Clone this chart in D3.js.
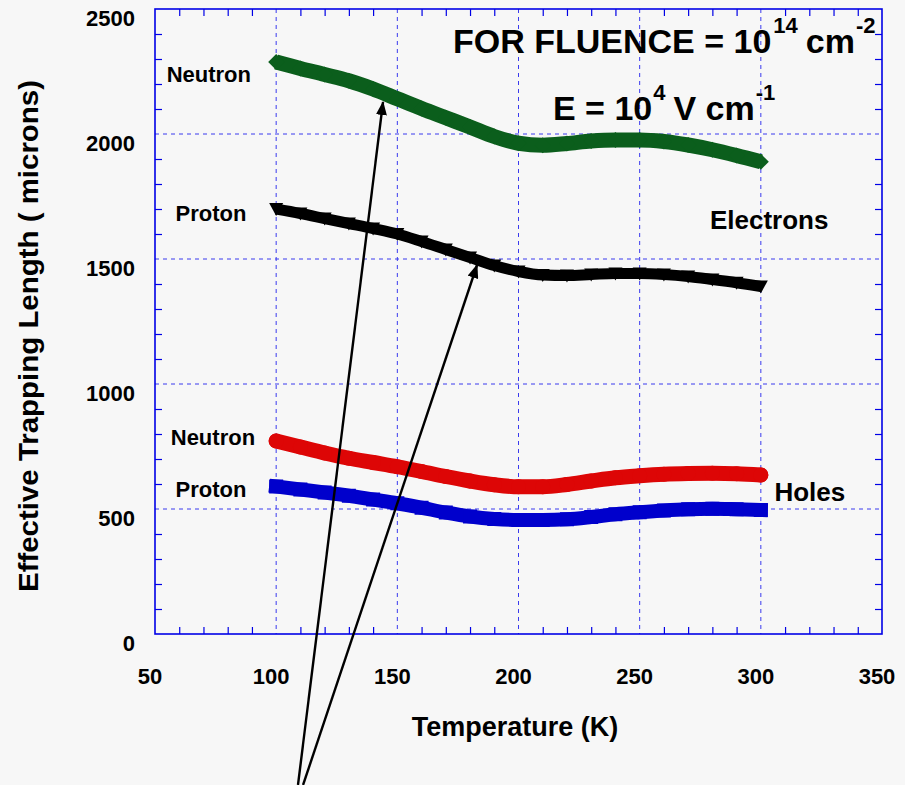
<!DOCTYPE html>
<html>
<head>
<meta charset="utf-8">
<script src="https://cdn.jsdelivr.net/npm/d3@7"></script>
<style>
  html, body { margin: 0; padding: 0; background: #f7f7f7; }
  svg { display: block; font-family: "Liberation Sans", Arial, Helvetica, sans-serif; }
</style>
</head>
<body>
<svg id="chart" width="905" height="785"></svg>
<script>
// Temperatures (K) at which the trapping lengths are given
const temperatures = [100, 110, 120, 130, 140, 150, 160, 170, 180, 190, 200,
                      210, 220, 230, 240, 250, 260, 270, 280, 290, 300];

// Effective trapping length (microns), electrons
const electronsNeutron = [2288, 2262, 2238, 2213, 2180, 2141, 2102, 2065, 2028, 1990, 1963,
                          1955, 1962, 1972, 1976, 1976, 1970, 1956, 1937, 1914, 1889];
const electronsProton  = [1700, 1682, 1662, 1642, 1622, 1600, 1570, 1538, 1506, 1474, 1450,
                          1436, 1434, 1438, 1442, 1442, 1438, 1430, 1418, 1405, 1390];

// Effective trapping length (microns), holes
const holesNeutron = [772, 748, 724, 703, 686, 669, 650, 630, 612, 597, 589,
                      589, 598, 612, 625, 633, 639, 642, 643, 641, 636];
const holesProton  = [590, 578, 566, 553, 538, 523, 505, 486, 470, 460, 456,
                      456, 459, 468, 479, 487, 494, 499, 501, 499, 496];

// Axis tick labels
const xTickLabels = [50, 100, 150, 200, 250, 300, 350];
const yTickLabels = [0, 500, 1000, 1500, 2000, 2500];

const svg = d3.select("#chart");
const W = 905, H = 785;
const plotLeft = 155, plotRight = 882, plotTop = 9, plotBottom = 634;

svg.append("rect").attr("width", W).attr("height", H).attr("fill", "#f7f7f7");

const x = d3.scaleLinear().domain([50, 350]).range([plotLeft, plotRight]);
const y = d3.scaleLinear().domain([0, 2500]).range([plotBottom, plotTop]);

const frameColor = "#0000e6";
const gridColor = "#3a3aee";

// Grid lines (dashed) at the major values inside the frame
const grid = svg.append("g");
grid.selectAll("line.gx")
  .data(xTickLabels.filter(v => v > 50 && v < 350))
  .join("line")
  .attr("x1", d => x(d)).attr("x2", d => x(d))
  .attr("y1", plotTop).attr("y2", plotBottom)
  .attr("stroke", gridColor).attr("stroke-width", 1)
  .attr("stroke-dasharray", "4,4");
grid.selectAll("line.gy")
  .data(yTickLabels.filter(v => v > 0 && v < 2500))
  .join("line")
  .attr("x1", plotLeft).attr("x2", plotRight)
  .attr("y1", d => y(d)).attr("y2", d => y(d))
  .attr("stroke", gridColor).attr("stroke-width", 1)
  .attr("stroke-dasharray", "4,4");

// Minor ticks, pointing inward on all four sides
const xMinor = d3.range(60, 350, 10).filter(v => v % 50 !== 0);
const yMinor = d3.range(100, 2500, 100).filter(v => v % 500 !== 0);
const tickLen = 7;

function styleTicks(g) {
  g.select(".domain").remove();
  g.selectAll(".tick line").attr("stroke", frameColor).attr("stroke-width", 1.2);
}
svg.append("g").attr("transform", `translate(0,${plotBottom})`)
  .call(d3.axisBottom(x).tickValues(xMinor).tickSize(-tickLen).tickFormat(""))
  .call(styleTicks);
svg.append("g").attr("transform", `translate(0,${plotTop})`)
  .call(d3.axisTop(x).tickValues(xMinor).tickSize(-tickLen).tickFormat(""))
  .call(styleTicks);
svg.append("g").attr("transform", `translate(${plotLeft},0)`)
  .call(d3.axisLeft(y).tickValues(yMinor).tickSize(-tickLen).tickFormat(""))
  .call(styleTicks);
svg.append("g").attr("transform", `translate(${plotRight},0)`)
  .call(d3.axisRight(y).tickValues(yMinor).tickSize(-tickLen).tickFormat(""))
  .call(styleTicks);

// Plot frame
svg.append("rect")
  .attr("x", plotLeft).attr("y", plotTop)
  .attr("width", plotRight - plotLeft).attr("height", plotBottom - plotTop)
  .attr("fill", "none").attr("stroke", frameColor).attr("stroke-width", 1.6);

// Tick labels
const gxLab = svg.append("g").attr("transform", `translate(0,${plotBottom})`)
  .call(d3.axisBottom(x).tickValues(xTickLabels).tickSize(0).tickFormat(d3.format("d")));
gxLab.select(".domain").remove();
gxLab.attr("font-family", null).attr("font-size", null);
gxLab.selectAll("text")
  .attr("y", 50).attr("dy", 0).attr("dx", -5.5)
  .attr("font-size", 22).attr("font-weight", "bold").attr("fill", "#000");

const gyLab = svg.append("g").attr("transform", `translate(${plotLeft},0)`)
  .call(d3.axisLeft(y).tickValues(yTickLabels).tickSize(0).tickPadding(20).tickFormat(d3.format("d")));
gyLab.select(".domain").remove();
gyLab.attr("font-family", null).attr("font-size", null);
gyLab.selectAll("text")
  .attr("y", 9)
  .attr("font-size", 22).attr("font-weight", "bold").attr("fill", "#000");

// Axis titles
svg.append("text")
  .attr("x", 515).attr("y", 736)
  .attr("text-anchor", "middle")
  .attr("font-size", 27).attr("font-weight", "bold")
  .text("Temperature (K)");
svg.append("text")
  .attr("transform", "translate(38,336) rotate(-90)")
  .attr("text-anchor", "middle")
  .attr("font-size", 28).attr("font-weight", "bold")
  .attr("textLength", 512).attr("lengthAdjust", "spacingAndGlyphs")
  .text("Effective Trapping Length ( microns)");

// Series
const series = [
  { name: "electronsNeutron", values: electronsNeutron, color: "#0b5e1c", marker: "diamond", width: 15, cap: "butt" },
  { name: "electronsProton",  values: electronsProton,  color: "#000000", marker: "triangleDown", width: 11, cap: "butt" },
  { name: "holesNeutron",     values: holesNeutron,     color: "#dd0606", marker: "circle", width: 15, cap: "round" },
  { name: "holesProton",      values: holesProton,      color: "#0000cc", marker: "square", width: 14, cap: "square" }
];

const line = d3.line()
  .x(d => x(d[0]))
  .y(d => y(d[1]))
  .curve(d3.curveMonotoneX);

// Marker outlines (pixel offsets around each plotted point)
const markerPaths = {
  diamond: "M-8,0 L0,-8 L8,0 L0,8 Z",
  triangleDown: "M-7,-6 L7,-6 L0,7 Z",
  circle: "M-7.5,0 A7.5,7.5 0 1,0 7.5,0 A7.5,7.5 0 1,0 -7.5,0 Z",
  square: "M-7,-7 L7,-7 L7,7 L-7,7 Z"
};

series.forEach(s => {
  const pts = temperatures.map((t, i) => [t, s.values[i]]);
  const g = svg.append("g").attr("class", s.name);
  g.append("path")
    .attr("d", line(pts))
    .attr("fill", "none")
    .attr("stroke", s.color)
    .attr("stroke-width", s.width)
    .attr("stroke-linecap", s.cap)
    .attr("stroke-linejoin", "round");
  g.selectAll("path.pt")
    .data(pts)
    .join("path")
    .attr("class", "pt")
    .attr("transform", d => `translate(${x(d[0])},${y(d[1])})`)
    .attr("d", markerPaths[s.marker])
    .attr("fill", s.color);
});

// Series labels
const labelStyle = sel => sel.attr("font-weight", "bold").attr("fill", "#000");
svg.append("text").attr("x", x(54.8)).attr("y", y(2209)).attr("font-size", 22).call(labelStyle).text("Neutron");
svg.append("text").attr("x", x(58.5)).attr("y", y(1652)).attr("font-size", 22).call(labelStyle).text("Proton");
svg.append("text").attr("x", x(56.5)).attr("y", y(756)).attr("font-size", 22).call(labelStyle).text("Neutron");
svg.append("text").attr("x", x(58.5)).attr("y", y(547)).attr("font-size", 22).call(labelStyle).text("Proton");
svg.append("text").attr("x", x(279)).attr("y", y(1619)).attr("font-size", 26).call(labelStyle).text("Electrons");
svg.append("text").attr("x", x(305.6)).attr("y", y(533)).attr("font-size", 26).call(labelStyle).text("Holes");

// Conditions
const cond1 = svg.append("text").attr("x", 453).attr("y", 53).attr("font-weight", "bold").attr("font-size", 34);
cond1.append("tspan").text("FOR FLUENCE = 10");
cond1.append("tspan").attr("font-size", 22).attr("dy", -20).attr("dx", 2).text("14");
cond1.append("tspan").attr("dy", 20).attr("dx", 8).text("cm");
cond1.append("tspan").attr("font-size", 22).attr("dy", -20).attr("dx", 1).text("-2");

const cond2 = svg.append("text").attr("x", 553).attr("y", 120).attr("font-weight", "bold").attr("font-size", 34);
cond2.append("tspan").text("E = 10");
cond2.append("tspan").attr("font-size", 22).attr("dy", -20).attr("dx", 1).text("4");
cond2.append("tspan").attr("dy", 20).attr("dx", 8).text("V cm");
cond2.append("tspan").attr("font-size", 22).attr("dy", -20).attr("dx", 1).text("-1");

// Arrows pointing to the two electron curves
const defs = svg.append("defs");
defs.append("marker")
  .attr("id", "arrowHead")
  .attr("viewBox", "0 0 14 11")
  .attr("refX", 13).attr("refY", 5.5)
  .attr("markerWidth", 14).attr("markerHeight", 11)
  .attr("markerUnits", "userSpaceOnUse")
  .attr("orient", "auto")
  .append("path").attr("d", "M0,0 L14,5.5 L0,11 Z").attr("fill", "#000");

const arrows = [
  { from: [109.0, -604], to: [144.1, 2128] },
  { from: [111.1, -604], to: [182.9, 1476] }
];
svg.selectAll("line.arrow")
  .data(arrows)
  .join("line")
  .attr("class", "arrow")
  .attr("x1", d => x(d.from[0])).attr("y1", d => y(d.from[1]))
  .attr("x2", d => x(d.to[0])).attr("y2", d => y(d.to[1]))
  .attr("stroke", "#000").attr("stroke-width", 2.4)
  .attr("marker-end", "url(#arrowHead)");
</script>
</body>
</html>
